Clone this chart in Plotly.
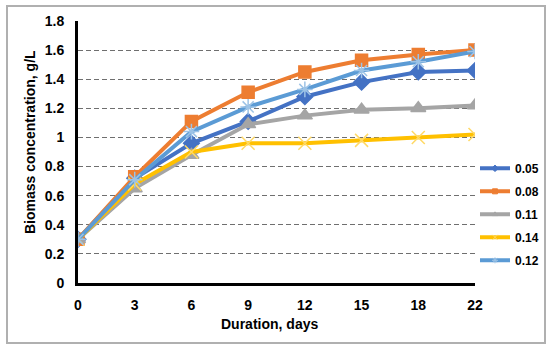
import plotly.graph_objects as go

days = ["0", "3", "6", "9", "12", "15", "18", "22"]
series_names = ["0.05", "0.08", "0.11", "0.14", "0.12"]
s_005 = [0.30, 0.72, 0.96, 1.11, 1.28, 1.38, 1.45, 1.46]
s_008 = [0.30, 0.73, 1.11, 1.31, 1.45, 1.53, 1.57, 1.60]
s_011 = [0.30, 0.65, 0.88, 1.09, 1.15, 1.19, 1.20, 1.22]
s_014 = [0.30, 0.68, 0.90, 0.96, 0.96, 0.98, 1.00, 1.02]
s_012 = [0.30, 0.71, 1.04, 1.21, 1.33, 1.46, 1.52, 1.59]
y_ticks = [0, 0.2, 0.4, 0.6, 0.8, 1, 1.2, 1.4, 1.6, 1.8]

values = [s_005, s_008, s_011, s_014, s_012]
colors = ["#4472C4", "#ED7D31", "#A5A5A5", "#FFC000", "#5B9BD5"]
symbols = ["diamond", "square", "triangle-up", "x-thin-open", "asterisk-open"]
marker_colors = ["#4472C4", "#ED7D31", "#A5A5A5", "#FFD966", "#9DC3E6"]
sizes = [12, 12, 13, 13, 13]

xs = list(range(len(days)))
fig = go.Figure()
for i, name in enumerate(series_names):
    fig.add_trace(go.Scatter(
        x=xs, y=values[i], name=name, mode="lines+markers",
        showlegend=False,
        line=dict(color=colors[i], width=4),
        marker=dict(symbol=symbols[i], size=sizes[i], color=marker_colors[i],
                    line=dict(color=marker_colors[i], width=1.5)),
    ))
# legend entries with small markers, as in the reference
for i, name in enumerate(series_names):
    fig.add_trace(go.Scatter(
        x=[None], y=[None], name=name, mode="lines+markers",
        legendgroup=name, showlegend=True,
        line=dict(color=colors[i], width=4),
        marker=dict(symbol=symbols[i], size=5, color=marker_colors[i],
                    line=dict(color=marker_colors[i], width=1)),
    ))

font_family = "Liberation Sans, Arial, sans-serif"
fig.update_layout(
    width=550, height=350,
    margin=dict(l=78, r=75, t=21, b=67, autoexpand=False),
    paper_bgcolor="white", plot_bgcolor="white",
    font=dict(family=font_family, size=12, color="black"),
    showlegend=True,
    legend=dict(x=1.0, xanchor="left", y=0.493, yanchor="top",
                font=dict(family=font_family, size=12, color="black", weight="bold"),
                tracegroupgap=4, bgcolor="rgba(0,0,0,0)", itemwidth=30),
    xaxis=dict(
        tickmode="array", tickvals=xs, ticktext=days,
        range=[0, len(days) - 1], showgrid=False, zeroline=False,
        showline=True, linecolor="black", linewidth=3, automargin=False,
        ticks="", tickfont=dict(size=14, weight="bold"), ticklabelstandoff=7,
    ),
    yaxis=dict(
        tickmode="array", tickvals=y_ticks, ticktext=[("%g" % v) for v in y_ticks],
        range=[0, 1.8], showgrid=True, gridcolor="#6F6F6F", griddash="5px,3px", gridwidth=1,
        zeroline=False, showline=True, linecolor="black", linewidth=3, automargin=False,
        ticks="", tickfont=dict(size=14, weight="bold"), ticklabelstandoff=8,
    ),
    annotations=[
        dict(text="Duration, days", xref="paper", yref="paper",
             x=(269 - 78) / 397, y=(283 - 324) / 262, xanchor="center", yanchor="middle",
             showarrow=False, font=dict(size=14, weight="bold")),
        dict(text="Biomass concentration, g/L", xref="paper", yref="paper",
             x=(30 - 78) / 397, y=(283 - 142) / 262, xanchor="center", yanchor="middle",
             textangle=-90, showarrow=False, font=dict(size=14, weight="bold")),
    ],
    shapes=[dict(type="rect", xref="paper", yref="paper",
                 x0=(7 - 78) / 397, x1=(545 - 78) / 397,
                 y0=(283 - 343) / 262, y1=(283 - 6) / 262,
                 line=dict(color="#B0B0B0", width=2), fillcolor="rgba(0,0,0,0)",
                 layer="above")],
)

fig.write_html("out.html", config={"displayModeBar": False},
               post_script="document.body.style.margin='0';")
